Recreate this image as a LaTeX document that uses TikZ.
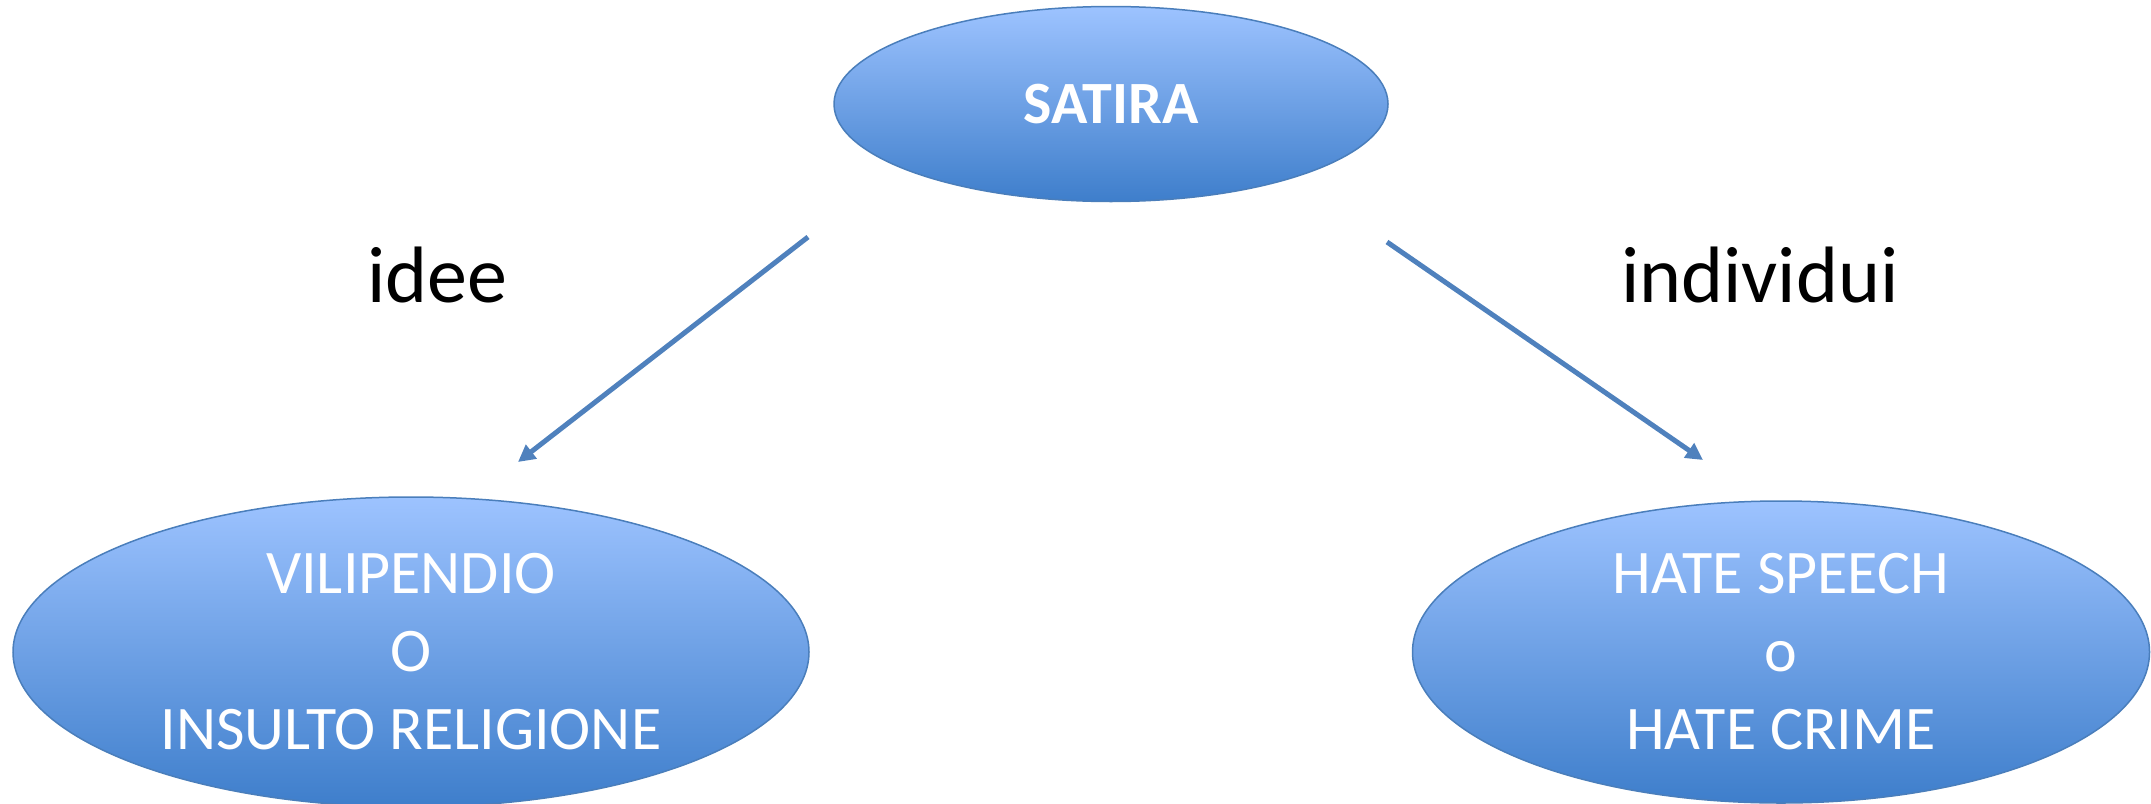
\documentclass[tikz,border=0pt]{standalone}
\usepackage{fontspec}
\setmainfont{Carlito}
\usetikzlibrary{shapes.geometric,arrows.meta}
\definecolor{topblue}{HTML}{9DC3FF}
\definecolor{botblue}{HTML}{3E7ECB}
\definecolor{edgeblue}{HTML}{4A7EBB}
\definecolor{arrowblue}{HTML}{4F81BD}
\begin{document}
\begin{tikzpicture}[x=1pt,y=-1pt,
  oval/.style={ellipse, draw=edgeblue, line width=1.5pt, top color=topblue, bottom color=botblue, inner sep=0pt},
  intext/.style={text=white, align=center, font=\fontsize{62}{78}\selectfont, inner sep=0pt},
  lbl/.style={font=\fontsize{80}{96}\selectfont, inner sep=0pt, anchor=base},
  conn/.style={draw=arrowblue, line width=5pt, -{Triangle[length=17pt,width=17pt]}}]
\useasboundingbox (0,0) rectangle (2151,803);
\node[oval, minimum width=554pt, minimum height=195pt] (sat) at (1111,104) {};
\node[oval, minimum width=796pt, minimum height=310pt] (vil) at (411,652) {};
\node[oval, minimum width=737pt, minimum height=302pt] (hate) at (1781,652) {};
\node[intext, font=\fontsize{60}{72}\selectfont\bfseries] (satT) at (sat.center) {SATIRA};
\node[intext] (vilT) at (vil.center) {VILIPENDIO\\O\\INSULTO RELIGIONE};
\node[intext] (hateT) at (hate.center) {HATE SPEECH\\o\\HATE CRIME};
\node[lbl] (idee) at (437,302) {idee};
\node[lbl] (indiv) at (1760,302) {individui};
\coordinate (a1s) at (808,237);
\coordinate (a1e) at (518,462);
\coordinate (a2s) at (1387,242);
\coordinate (a2e) at (1703,460);
\draw[conn] (a1s) -- (a1e);
\draw[conn] (a2s) -- (a2e);
\end{tikzpicture}
\end{document}
